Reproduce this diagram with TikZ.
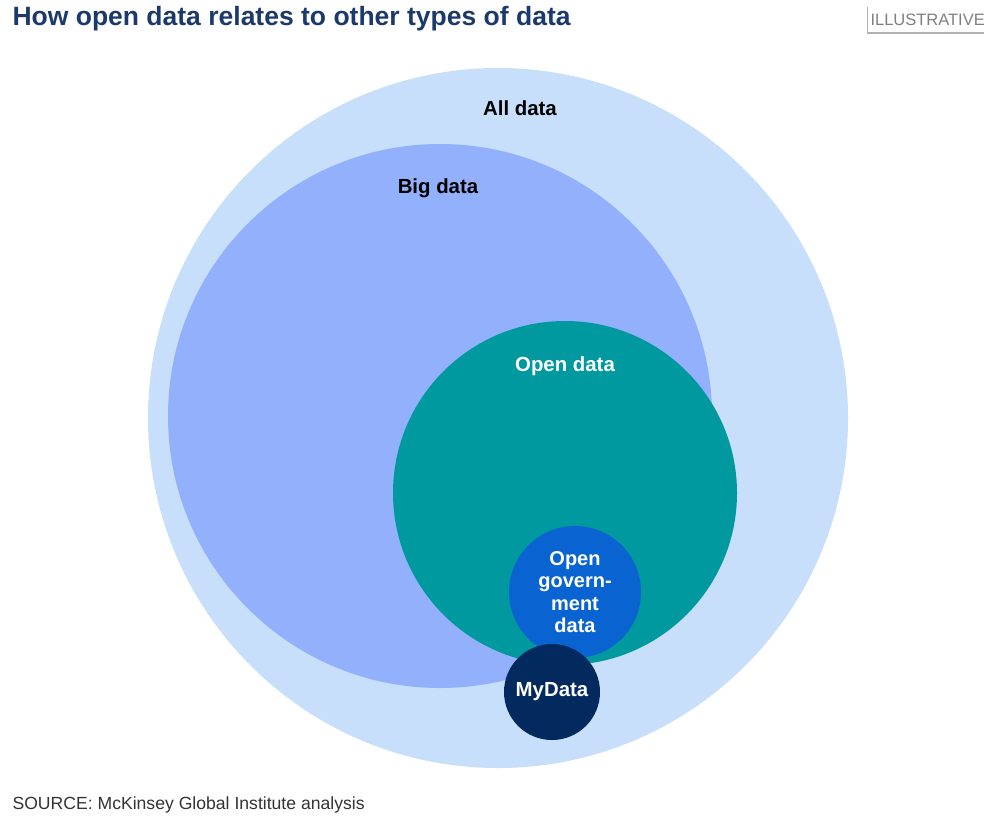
\documentclass[tikz,border=0pt]{standalone}
\usepackage{fontspec}
\setmainfont{Liberation Sans}
\usepackage{xcolor}
\usetikzlibrary{positioning}

\definecolor{titleblue}{HTML}{1B3A6B}
\definecolor{allblue}{HTML}{C7DFFA}
\definecolor{bigblue}{HTML}{93B0FD}
\definecolor{openteal}{HTML}{00999F}
\definecolor{govblue}{HTML}{0964D2}
\definecolor{mynavy}{HTML}{022A5E}

\begin{document}
\begin{tikzpicture}[
        x=1pt, y=-1pt,
        disc/.style={circle, inner sep=0pt, draw=none},
        lbl/.style={font=\fontsize{20.4}{23}\selectfont\bfseries, align=center},
        wlbl/.style={lbl, text=white}
    ]
        \useasboundingbox (0,0) rectangle (984,819);
        % title and tag
        \node[anchor=west, text=titleblue, font=\fontsize{26.5}{30}\selectfont\bfseries] (title) at (9,19) {How open data relates to other types of data};
        \node[anchor=east, text=black!50, font=\fontsize{16.5}{19}\selectfont, inner sep=3pt, minimum height=26pt] (tag) at (988,20) {ILLUSTRATIVE};
        \draw[black!30, line width=1.5pt] (tag.north west) -- (tag.south west) -- (tag.south east);
        % nested sets
        \node[disc, fill=allblue, minimum size=700pt] (all) at (498,418) {};
        \node[disc, fill=bigblue, minimum size=544pt] (big) at (440,416) {};
        \node[disc, fill=openteal, minimum size=344pt] (open) at (565,493) {};
        \node[disc, fill=govblue, minimum size=132pt] (gov) at (575,592) {};
        \node[disc, fill=mynavy, minimum size=96pt] (my) at (552,692) {};
        % labels
        \node[lbl] (alllbl) at (520,108) {All data};
        \node[lbl] (biglbl) at (438,188) {Big data};
        \node[wlbl] (openlbl) at (565,366) {Open data};
        \node[wlbl, font=\fontsize{20}{22.5}\selectfont\bfseries] (govlbl) at (gov) {Open\\govern-\\ment\\data};
        \node[wlbl] (mylbl) at (my) {MyData};
        % source
        \node[anchor=west, text=black!80, font=\fontsize{17.6}{20}\selectfont] (source) at (9,805) {SOURCE: McKinsey Global Institute analysis};
    \end{tikzpicture}
\end{document}
